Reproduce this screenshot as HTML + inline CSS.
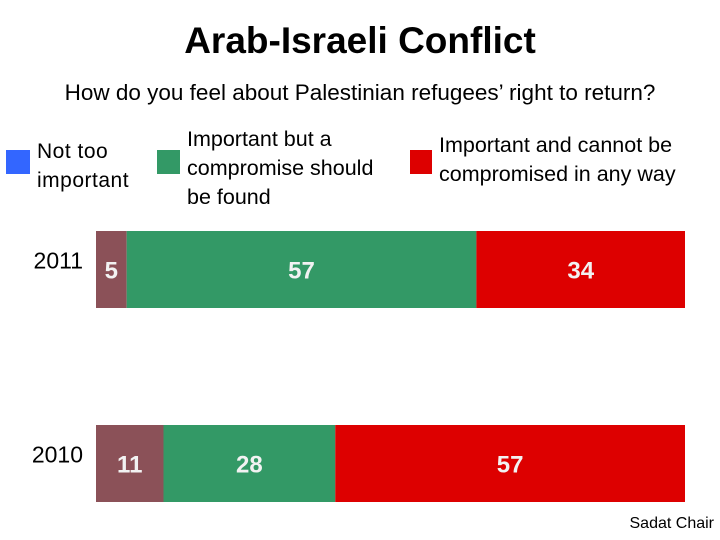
<!DOCTYPE html>
<html><head><meta charset="utf-8"><style>
body{margin:0;width:720px;height:540px;background:#fff;overflow:hidden;font-family:"Liberation Sans",sans-serif;}
.t{position:absolute;white-space:nowrap;color:#000;}
</style></head><body>
<div class="t" style="left:0;width:720px;text-align:center;top:20px;font-size:37px;font-weight:bold;">Arab-Israeli Conflict</div>
<div class="t" style="left:0;width:720px;text-align:center;top:80px;font-size:22.5px;">How do you feel about Palestinian refugees’ right to return?</div>
<div style="position:absolute;left:6px;top:150px;width:24px;height:24px;background:#3366ff"></div>
<div class="t" style="left:37px;top:137px;font-size:21px;line-height:29px;letter-spacing:0.5px;">Not too<br>important</div>
<div style="position:absolute;left:157px;top:150px;width:23px;height:24px;background:#339966"></div>
<div class="t" style="left:187px;top:125px;font-size:21.5px;line-height:29px;">Important but a<br>compromise should<br>be found</div>
<div style="position:absolute;left:410px;top:150px;width:22px;height:24px;background:#dd0000"></div>
<div class="t" style="left:439px;top:131px;font-size:21.5px;line-height:29px;">Important and cannot be<br>compromised in any way</div>
<svg id="c" width="720" height="540" style="position:absolute;left:0;top:0"></svg>
<div class="t" style="right:6px;top:515px;font-size:16px;">Sadat Chair</div>
<script>
const years=["2011","2010"];
const notImportant=[5,11];
const compromise=[57,28];
const noCompromise=[34,57];
const colors=["#8b5158","#339966","#dd0000"];
const x0=96,pxPer=589/96;
const rowTop=[231,425],barH=77;
const svg=document.getElementById('c');
const NS="http://www.w3.org/2000/svg";
years.forEach((y,i)=>{
  const vals=[notImportant[i],compromise[i],noCompromise[i]];
  let x=x0;
  const g=document.createElementNS(NS,'g');
  
  
  svg.appendChild(g);
  const yl=document.createElementNS(NS,'text');
  
  
  yl.setAttribute('x',83);yl.setAttribute('y',rowTop[i]+barH/2-1);
  yl.setAttribute('text-anchor','end');yl.setAttribute('font-size','23');
  yl.setAttribute('font-family','Liberation Sans, sans-serif');
  yl.textContent=y;g.appendChild(yl);
  vals.forEach((v,j)=>{
    const w=v*pxPer;
    const r=document.createElementNS(NS,'rect');
    
    
    r.setAttribute('x',x);r.setAttribute('y',rowTop[i]);
    r.setAttribute('width',w);r.setAttribute('height',barH);
    r.setAttribute('fill',colors[j]);g.appendChild(r);
    const t=document.createElementNS(NS,'text');
    
    
    t.setAttribute('x',x+w/2);t.setAttribute('y',rowTop[i]+barH/2+9);
    t.setAttribute('text-anchor','middle');t.setAttribute('font-size','24');
    t.setAttribute('font-weight','bold');t.setAttribute('fill','#f2f2f2');
    t.setAttribute('font-family','Liberation Sans, sans-serif');
    t.textContent=v;g.appendChild(t);
    x+=w;
  });
});
</script>
</body></html>
